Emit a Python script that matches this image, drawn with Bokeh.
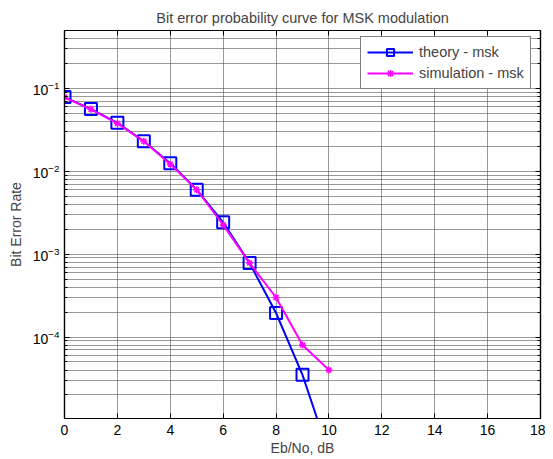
from bokeh.plotting import figure
from bokeh.models import LogAxis, LinearAxis, FixedTicker, Range1d, Legend, LegendItem, CustomJSTickFormatter
from bokeh.embed import file_html
from bokeh.resources import INLINE

# Data
ebno = [0, 1, 2, 3, 4, 5, 6, 7, 8, 9, 10]
theory_msk = [0.0786, 0.0563, 0.0385, 0.0230, 0.0125, 0.0060, 0.00242, 0.00078, 0.000195, 3.5e-5, 3.9e-6]
simulation_msk = [0.0780, 0.0560, 0.0378, 0.0230, 0.0122, 0.0060, 0.00225, 0.00078, 0.00030, 8.0e-5, 4.0e-5]

x_ticks = [0, 2, 4, 6, 8, 10, 12, 14, 16, 18]
y_ticks = [1e-4, 1e-3, 1e-2, 1e-1]
y_minor = [m * 10.0 ** e for e in (-5, -4, -3, -2) for m in range(2, 10)] + [0.2, 0.3, 0.4, 0.5]

FONT = "Liberation Sans"

p = figure(width=545, height=459, y_axis_type="log",
           x_range=Range1d(0, 18), y_range=Range1d(1.04e-5, 0.5),
           output_backend="svg", toolbar_location=None,
           min_border_left=64, min_border_right=5, min_border_top=30, min_border_bottom=41,
           title="Bit error probability curve for MSK modulation")

p.background_fill_color = "white"
p.border_fill_color = "white"
p.outline_line_color = "black"
p.outline_line_width = 1.2

p.title.text_font = FONT
p.title.text_font_size = "14.5px"
p.title.text_font_style = "normal"
p.title.align = "center"
p.title.standoff = 10

# Grid
p.xgrid.ticker = FixedTicker(ticks=x_ticks)
p.ygrid.ticker = FixedTicker(ticks=y_ticks, minor_ticks=y_minor)
for g in (p.xgrid, p.ygrid):
    g.grid_line_color = "#555555"
    g.grid_line_alpha = 0.6
    g.grid_line_width = 1
p.ygrid.minor_grid_line_color = "#555555"
p.ygrid.minor_grid_line_alpha = 0.6

def style_axis(ax, labels=True):
    ax.axis_line_color = "black"
    ax.axis_line_width = 1.2
    ax.major_tick_in = 5
    ax.major_tick_out = 0
    ax.minor_tick_in = 3
    ax.minor_tick_out = 0
    ax.major_tick_line_color = "black"
    ax.minor_tick_line_color = "black"
    ax.major_label_text_font = FONT
    ax.major_label_text_font_size = "14px"
    ax.major_label_text_color = "black"
    ax.axis_label_text_font = FONT
    ax.axis_label_text_font_size = "14px"
    ax.axis_label_text_font_style = "normal"
    if not labels:
        ax.formatter = CustomJSTickFormatter(code="return ''")
        ax.major_label_standoff = 0

xa = p.xaxis[0]
xa.ticker = FixedTicker(ticks=x_ticks)
xa.axis_label = "Eb/No, dB"
xa.major_label_standoff = 6
xa.axis_label_standoff = 2
style_axis(xa)

ya = p.yaxis[0]
ya.ticker = FixedTicker(ticks=y_ticks, minor_ticks=y_minor)
ya.axis_label = "Bit Error Rate"
ya.major_label_standoff = 5
ya.axis_label_standoff = 6
style_axis(ya)

top_ax = LinearAxis(ticker=FixedTicker(ticks=x_ticks))
style_axis(top_ax, labels=False)
top_ax.major_label_standoff = 4
p.add_layout(top_ax, "above")

right_ax = LogAxis(ticker=FixedTicker(ticks=y_ticks, minor_ticks=y_minor))
style_axis(right_ax, labels=False)
p.add_layout(right_ax, "right")

# Series
t_line = p.line(ebno, theory_msk, line_color="#0000FF", line_width=2)
t_mark = p.scatter(ebno, theory_msk, marker="square", size=12, line_color="#0000FF",
                   fill_color=None, line_width=2)
s_line = p.line(ebno, simulation_msk, line_color="#FF00FF", line_width=2)
s_mark = p.scatter(ebno, simulation_msk, marker="asterisk", size=7, line_color="#FF00FF",
                   line_width=1.5)

legend = Legend(items=[LegendItem(label="theory - msk", renderers=[t_line, t_mark]),
                       LegendItem(label="simulation - msk", renderers=[s_line, s_mark])],
                location=(296, 329))
legend.label_text_font = FONT
legend.label_text_font_size = "14.5px"
legend.glyph_width = 46
legend.glyph_height = 18
legend.label_standoff = 6
legend.spacing = 3
legend.padding = 6
legend.margin = 0
legend.border_line_color = "black"
legend.border_line_width = 1.2
legend.background_fill_color = "white"
legend.background_fill_alpha = 1
p.add_layout(legend, "center")

open("out.html", "w").write(file_html(p, INLINE))
